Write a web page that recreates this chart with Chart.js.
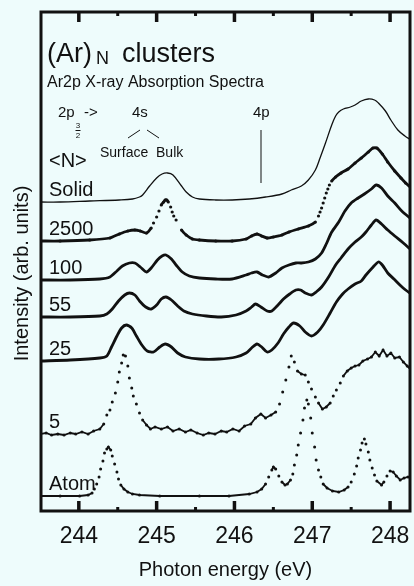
<!DOCTYPE html>
<html>
<head>
<meta charset="utf-8">
<script src="https://cdn.jsdelivr.net/npm/chart.js@4.4.0/dist/chart.umd.min.js"></script>
<style>
  html, body { margin: 0; padding: 0; background: #eefcfc; overflow: hidden; }
  canvas { display: block; }
</style>
</head>
<body>
<canvas id="spectra" width="414" height="586"></canvas>
<script>
// photon energy (eV) and stacked intensity (arb. units)
const solidE = [243.51,243.76,244.14,244.52,244.69,244.78,244.82,244.91,245.00,245.07,245.14,245.21,245.32,245.38,245.46,245.55,245.76,245.97,246.19,246.40,246.61,246.73,246.86,246.95,247.04,247.10,247.17,247.25,247.30,247.34,247.40,247.49,247.55,247.63,247.72,247.80,247.85,247.94,248.01,248.10,248.19,248.27]
const solidI = [30.9,30.9,31.0,31.1,31.2,31.4,31.6,32.5,33.3,33.7,33.8,33.6,32.5,31.9,31.4,31.2,31.1,31.1,31.2,31.4,31.7,32.1,32.5,33.1,34.1,35.3,36.8,38.6,39.5,39.9,40.2,40.4,40.6,41.0,41.2,41.1,40.8,40.0,39.1,38.1,37.5,37.1]

const n2500E = [243.51,243.76,244.14,244.40,244.52,244.63,244.72,244.79,244.87,244.93,244.96,245.00,245.03,245.06,245.09,245.11,245.13,245.15,245.18,245.20,245.22,245.25,245.32,245.38,245.46,245.55,245.76,245.97,246.15,246.22,246.29,246.35,246.42,246.50,246.61,246.70,246.82,246.95,247.04,247.08,247.10,247.12,247.14,247.16,247.18,247.20,247.22,247.25,247.30,247.37,247.46,247.55,247.63,247.72,247.78,247.83,247.90,247.97,248.06,248.14,248.20,248.27]
const n2500I = [27.0,27.0,27.1,27.3,27.7,28.0,28.1,28.0,27.8,28.3,28.8,29.4,30.0,30.6,30.9,31.1,31.1,30.9,30.4,29.9,29.5,29.1,28.1,27.6,27.2,27.1,27.0,27.0,27.2,27.5,27.7,27.5,27.3,27.4,27.6,27.9,28.2,28.5,28.9,29.5,29.9,30.3,30.8,31.3,31.8,32.2,32.6,33.0,33.4,33.8,34.2,34.8,35.3,35.9,36.3,36.3,35.7,34.9,34.0,33.3,32.8,32.3]

const n100E = [243.51,243.89,244.27,244.40,244.49,244.56,244.65,244.72,244.79,244.87,244.93,245.01,245.07,245.12,245.19,245.25,245.33,245.42,245.55,245.76,245.97,246.15,246.22,246.29,246.36,246.44,246.53,246.61,246.70,246.79,246.86,246.95,247.04,247.12,247.18,247.25,247.34,247.42,247.50,247.59,247.67,247.76,247.82,247.89,247.97,248.06,248.15,248.27]
const n100I = [23.1,23.1,23.2,23.4,24.0,24.5,24.8,24.8,24.4,23.9,24.3,25.1,25.5,25.6,25.2,24.6,23.9,23.5,23.3,23.2,23.2,23.6,23.8,23.9,23.6,23.4,23.8,24.3,24.6,24.8,24.8,24.9,25.2,25.8,26.7,27.9,28.9,30.0,30.8,31.3,31.7,32.2,32.6,32.3,31.5,30.8,30.0,29.2]

const n55E = [243.51,243.89,244.27,244.36,244.43,244.51,244.59,244.65,244.72,244.78,244.86,244.93,245.00,245.06,245.12,245.19,245.27,245.35,245.46,245.64,245.83,246.02,246.15,246.22,246.27,246.34,246.42,246.48,246.56,246.63,246.71,246.79,246.85,246.91,246.99,247.05,247.12,247.21,247.30,247.37,247.46,247.55,247.63,247.69,247.76,247.82,247.89,247.97,248.06,248.17,248.27]
const n55I = [19.4,19.4,19.5,19.7,20.2,21.0,21.6,21.8,21.6,21.0,20.4,20.2,20.6,21.2,21.4,21.1,20.5,20.0,19.7,19.5,19.4,19.6,20.0,20.4,20.7,20.4,20.0,20.0,20.6,21.2,21.7,22.1,22.1,21.8,21.6,21.9,22.4,23.4,24.6,25.3,26.2,26.9,27.4,27.9,28.6,29.1,28.7,28.1,27.5,26.8,26.1]

const n25E = [243.51,243.89,244.27,244.36,244.42,244.49,244.55,244.61,244.68,244.74,244.81,244.88,244.96,245.04,245.11,245.19,245.27,245.37,245.55,245.80,246.02,246.15,246.22,246.29,246.35,246.42,246.48,246.56,246.63,246.70,246.76,246.84,246.91,246.99,247.07,247.14,247.23,247.31,247.39,247.46,247.55,247.63,247.69,247.77,247.85,247.90,247.97,248.05,248.14,248.20,248.27]
const n25I = [15.0,15.1,15.3,15.5,16.4,17.5,18.3,18.6,18.3,17.5,16.6,16.0,15.9,16.4,16.7,16.4,15.8,15.4,15.2,15.2,15.4,15.8,16.3,16.7,16.4,15.9,16.1,16.8,17.7,18.4,18.8,18.5,17.9,17.5,17.9,18.6,19.8,20.9,21.7,22.2,22.7,23.0,23.6,24.3,24.9,24.6,23.8,23.2,22.5,22.1,21.7]

const n5E = [243.51,243.58,243.65,243.73,243.81,243.89,243.96,244.04,244.12,244.19,244.27,244.32,244.36,244.40,244.43,244.47,244.50,244.52,244.55,244.57,244.60,244.63,244.65,244.68,244.70,244.74,244.78,244.82,244.87,244.92,244.98,245.06,245.14,245.21,245.29,245.37,245.44,245.52,245.60,245.67,245.75,245.83,245.90,245.98,246.06,246.13,246.21,246.27,246.34,246.40,246.47,246.53,246.58,246.62,246.66,246.70,246.73,246.77,246.81,246.86,246.91,246.95,246.99,247.04,247.08,247.13,247.18,247.23,247.27,247.31,247.36,247.40,247.45,247.50,247.55,247.60,247.65,247.71,247.76,247.81,247.86,247.91,247.96,248.01,248.06,248.12,248.17,248.22,248.27]
const n5I = [7.7,7.8,7.6,7.7,7.6,7.8,7.7,7.9,7.7,8.0,8.2,8.7,9.6,10.1,10.9,11.8,12.9,13.9,14.8,15.6,15.5,14.5,13.3,12.3,11.5,10.7,9.8,9.1,8.6,8.2,8.4,8.2,8.4,8.0,8.2,7.9,8.1,7.8,7.6,7.8,7.7,8.0,7.9,8.2,8.0,8.5,8.7,9.3,9.7,9.3,9.6,9.9,10.7,11.9,13.1,14.4,15.5,14.9,14.0,13.7,13.6,12.9,12.2,11.4,10.8,10.2,10.4,10.8,11.5,12.1,12.8,13.5,14.0,14.3,14.5,14.6,15.0,15.2,15.4,15.9,15.5,16.1,15.5,15.8,15.3,15.4,14.9,14.5,14.1]

const atomE = [243.51,243.76,244.01,244.12,244.17,244.20,244.23,244.26,244.28,244.31,244.33,244.36,244.38,244.41,244.43,244.46,244.49,244.51,244.54,244.58,244.63,244.69,244.78,245.04,245.55,245.93,246.19,246.29,246.35,246.40,246.44,246.48,246.50,246.53,246.57,246.61,246.65,246.68,246.72,246.75,246.77,246.80,246.82,246.85,246.88,246.90,246.93,246.95,246.98,247.00,247.03,247.05,247.08,247.11,247.14,247.19,247.26,247.34,247.41,247.46,247.50,247.54,247.57,247.59,247.62,247.64,247.67,247.69,247.72,247.74,247.77,247.80,247.83,247.89,247.92,247.96,248.00,248.04,248.08,248.13,248.18,248.23,248.27]
const atomI = [1.5,1.5,1.5,1.6,1.8,2.2,2.7,3.4,4.2,5.0,5.8,6.2,6.4,6.1,5.5,4.7,3.9,3.2,2.6,2.2,1.9,1.7,1.6,1.5,1.5,1.5,1.7,1.9,2.2,2.7,3.4,4.1,4.4,4.2,3.5,2.9,2.6,2.7,3.1,3.7,4.6,5.6,6.6,7.8,9.1,10.3,11.1,10.7,9.3,7.8,6.4,5.1,4.1,3.4,2.7,2.3,2.0,1.9,2.1,2.4,2.9,3.7,4.5,5.3,6.1,6.8,7.2,6.7,5.9,5.1,4.3,3.6,3.0,2.6,2.9,3.5,4.0,3.9,3.5,3.1,3.3,3.4,3.3]

const spectrumLabels = ["Solid", "2500", "100", "55", "25", "5", "Atom"]
const xTickValues = [244, 245, 246, 247, 248]
const xMinorTicks = [244.5, 245.5, 246.5, 247.5]
const xMin = 243.514
const xMax = 248.256

const ink = "#111111"
const family = "'Liberation Sans', Arial, sans-serif"

const points = (energies, values) => energies.map((e, i) => ({ x: e, y: values[i] }))
// steep stretches of the recorded spectra show up as separate dots, not a line
const hideSteep = ctx => {
    const dx = Math.abs(ctx.p1.x - ctx.p0.x)
    const dy = Math.abs(ctx.p1.y - ctx.p0.y)
    return dy > 3 && dy > 1.6 * dx ? "rgba(0,0,0,0)" : ink
}

const lineStyle = { showLine: true, borderColor: ink, pointRadius: 0, borderWidth: 2.8, tension: 0.25 }
const dotStyle = {
    showLine: true, borderColor: ink, borderWidth: 1.8, tension: 0,
    pointRadius: 1.5, pointBackgroundColor: ink, pointBorderWidth: 0,
    segment: { borderColor: hideSteep }
}

const datasets = [
    { ...lineStyle, data: points(solidE, solidI), borderWidth: 1.3, tension: 0.35 },
    { ...dotStyle, data: points(n2500E, n2500I), borderWidth: 2.8, pointRadius: 1.6, tension: 0.2 },
    { ...lineStyle, data: points(n100E, n100I) },
    { ...lineStyle, data: points(n55E, n55I) },
    { ...lineStyle, data: points(n25E, n25I) },
    { ...dotStyle, data: points(n5E, n5I) },
    { ...dotStyle, data: points(atomE, atomI) },
]

const annotate = {
    id: "annotate",
    afterDraw(chart) {
        const { ctx, chartArea: a, scales: { x, y } } = chart
        const L = a.left, T = a.top
        ctx.save()
        ctx.fillStyle = ink
        ctx.strokeStyle = ink

        // frame
        ctx.lineWidth = 3
        ctx.strokeRect(a.left, a.top, a.right - a.left, a.bottom - a.top)

        // inward ticks, top and bottom
        xTickValues.forEach(v => {
            const px = x.getPixelForValue(v)
            ctx.fillRect(px - 1.75, a.bottom - 10, 3.5, 10)
            ctx.fillRect(px - 1.75, a.top, 3.5, 10)
        })
        xMinorTicks.forEach(v => {
            const px = x.getPixelForValue(v)
            ctx.fillRect(px - 1.5, a.bottom - 4, 3, 4)
            ctx.fillRect(px - 1.5, a.top, 3, 4)
        })

        // spectrum labels, just above each baseline
        ctx.textBaseline = "alphabetic"
        ctx.textAlign = "left"
        ctx.font = "20px " + family
        chart.data.datasets.forEach((ds, i) => {
            const py = y.getPixelForValue(ds.data[0].y)
            ctx.fillText(spectrumLabels[i], L + 8, py - 6)
        })
        ctx.fillText("<N>", L + 8, T + 155)

        // title block
        ctx.font = "27px " + family
        ctx.fillText("(Ar)", L + 6, T + 50)
        ctx.fillText("clusters", L + 81, T + 50)
        ctx.font = "18px " + family
        ctx.fillText("N", L + 55, T + 52)
        ctx.font = "16px " + family
        ctx.fillText("Ar2p X-ray Absorption Spectra", L + 6, T + 75)

        ctx.font = "15px " + family
        ctx.fillText("2p", L + 17, T + 105)
        ctx.fillText("->", L + 43, T + 105)
        ctx.fillText("4s", L + 91, T + 105)
        ctx.fillText("4p", L + 212, T + 105)
        ctx.font = "8px " + family
        ctx.textAlign = "center"
        ctx.fillText("3", L + 37, T + 116)
        ctx.fillText("2", L + 37, T + 126)
        ctx.textAlign = "left"
        ctx.font = "14px " + family
        ctx.fillText("Surface  Bulk", L + 59, T + 145)

        ctx.lineWidth = 1
        ctx.beginPath()
        ctx.moveTo(L + 34.5, T + 118.5); ctx.lineTo(L + 39.5, T + 118.5)
        ctx.moveTo(L + 87, T + 126); ctx.lineTo(L + 99, T + 118)
        ctx.moveTo(L + 106, T + 118); ctx.lineTo(L + 118, T + 126)
        ctx.moveTo(L + 220, T + 118); ctx.lineTo(L + 220, T + 171)
        ctx.stroke()

        // y axis title
        ctx.translate(22, (a.top + a.bottom) / 2 + 12)
        ctx.rotate(-Math.PI / 2)
        ctx.textAlign = "center"
        ctx.textBaseline = "middle"
        ctx.font = "20px " + family
        ctx.fillText("Intensity (arb. units)", 0, 0)
        ctx.restore()
    }
}

new Chart(document.querySelector("#spectra"), {
    type: "scatter",
    data: { datasets },
    options: {
        responsive: false,
        animation: false,
        devicePixelRatio: 1,
        layout: { padding: { left: 41, top: 12, right: 2, bottom: 0 } },
        plugins: { legend: { display: false }, tooltip: { enabled: false } },
        scales: {
            x: {
                type: "linear",
                min: xMin,
                max: xMax,
                afterBuildTicks: s => { s.ticks = xTickValues.map(v => ({ value: v })) },
                afterFit: s => { s.height = 75; s.paddingLeft = 0; s.paddingRight = 0 },
                grid: { display: false, drawTicks: false },
                border: { display: false },
                ticks: { color: ink, font: { family, size: 23 }, padding: 12, maxRotation: 0 },
                title: {
                    display: true, text: "Photon energy (eV)", color: ink,
                    font: { family, size: 20 }, padding: { top: 0, bottom: 4 }
                }
            },
            y: { display: false, min: 0, max: 49.9 }
        }
    },
    plugins: [annotate]
})
</script>
</body>
</html>
